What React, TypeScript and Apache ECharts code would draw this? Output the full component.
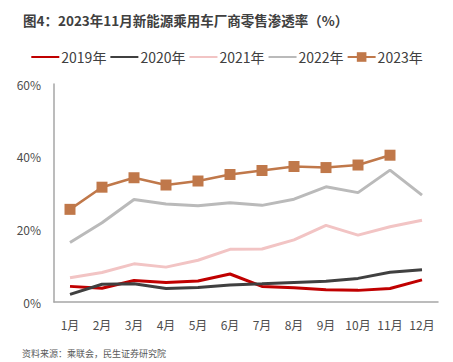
import React, { useEffect, useRef } from "react";
import * as echarts from "echarts";

const months = ["1月", "2月", "3月", "4月", "5月", "6月", "7月", "8月", "9月", "10月", "11月", "12月"];
const s2019 = [4.3, 3.8, 5.9, 5.4, 5.8, 7.7, 4.3, 3.9, 3.4, 3.2, 3.7, 6.1];
const s2020 = [2.1, 4.9, 5.0, 3.7, 4.0, 4.7, 5.0, 5.4, 5.7, 6.5, 8.2, 8.9];
const s2021 = [6.7, 8.1, 10.5, 9.6, 11.5, 14.5, 14.6, 17.1, 21.1, 18.4, 20.7, 22.5];
const s2022 = [16.4, 21.8, 28.2, 27.0, 26.5, 27.3, 26.6, 28.3, 31.7, 30.1, 36.3, 29.4];
const s2023 = [25.5, 31.6, 34.2, 32.2, 33.3, 35.1, 36.2, 37.3, 37.0, 37.7, 40.4];
const yTicks = [0, 20, 40, 60];

const FONT = "'Noto Sans CJK SC', 'Noto Sans', sans-serif";

export default function App() {
  const ref = useRef<HTMLDivElement>(null);
  useEffect(() => {
    if (!ref.current) return;
    const chart = echarts.init(ref.current, null, { renderer: "svg" });
    const line = (name: string, data: number[], color: string, extra: any = {}) => ({
      name,
      type: "line",
      data,
      symbol: "none",
      lineStyle: { color, width: 3 },
      itemStyle: { color },
      z: 2,
      ...extra,
    });
    const noMark = { itemStyle: { opacity: 0 } };
    chart.setOption({
      animation: false,
      textStyle: { fontFamily: FONT },
      title: {
        text: "图4：2023年11月新能源乘用车厂商零售渗透率（%）",
        left: 18,
        top: 8,
        textStyle: { fontSize: 13.5, fontWeight: "bold", color: "#404040", fontFamily: FONT },
      },
      graphic: [
        {
          type: "text",
          left: 22,
          top: 349,
          style: { text: "资料来源：乘联会，民生证券研究院", fontSize: 9, fill: "#595959", fontFamily: FONT },
        },
      ],
      legend: {
        left: "center",
        top: 45,
        itemWidth: 28,
        itemHeight: 12,
        itemGap: 3,
        textStyle: { fontSize: 14, color: "#404040", fontFamily: FONT, padding: [0, 0, 0, -3] },
        data: [
          { name: "2019年", ...noMark },
          { name: "2020年", ...noMark },
          { name: "2021年", ...noMark },
          { name: "2022年", ...noMark },
          { name: "2023年" },
        ],
      },
      grid: { left: 54, right: 15, top: 84, bottom: 60, containLabel: false },
      xAxis: {
        type: "category",
        data: months,
        boundaryGap: true,
        axisLine: { lineStyle: { color: "#A6A6A6", width: 1.5 } },
        axisTick: { show: false },
        axisLabel: { interval: 0, fontSize: 12, color: "#4D4D4D", margin: 16, fontFamily: FONT },
      },
      yAxis: {
        type: "value",
        min: yTicks[0],
        max: yTicks[yTicks.length - 1],
        interval: 20,
        axisLine: { show: true, lineStyle: { color: "#A6A6A6", width: 1.5 } },
        axisTick: { show: false },
        splitLine: { show: false },
        axisLabel: { fontSize: 12, color: "#4D4D4D", formatter: "{value}%", margin: 13, fontFamily: FONT },
      },
      series: [
        line("2019年", s2019, "#C00000"),
        line("2020年", s2020, "#404040"),
        line("2021年", s2021, "#F2C4C4"),
        line("2022年", s2022, "#BABABA"),
        line("2023年", s2023, "#C0784A", {
          symbol: "rect",
          symbolSize: 11,
          lineStyle: { color: "#C0784A", width: 2.5 },
          z: 3,
        }),
      ],
    });
    return () => chart.dispose();
  }, []);
  return (
    <div
      ref={ref}
      style={{ position: "fixed", left: 0, top: 0, width: 453, height: 362, background: "#fff" }}
    />
  );
}
